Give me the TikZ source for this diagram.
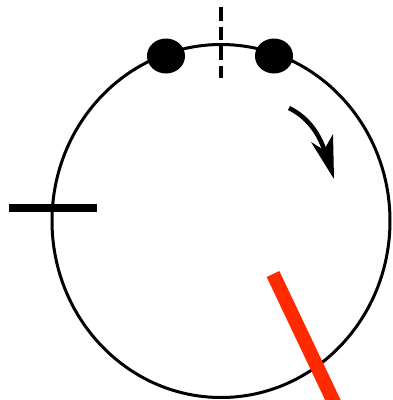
\documentclass[tikz,border=0pt]{standalone}
\definecolor{barred}{RGB}{255,42,0}
\begin{document}
\begin{tikzpicture}[x=1pt,y=-1pt,
  outline/.style={line width=3pt,draw=black},
  dot/.style={fill=black},
  tick/.style={line width=8pt,draw=black},
  redbar/.style={line width=14pt,draw=barred},
  dashtick/.style={line width=4.5pt,draw=black,dash pattern=on 13.5pt off 6pt}]
\useasboundingbox (0,0) rectangle (393,400);
\begin{scope}
\clip (0,0) rectangle (393,400);
\draw[outline] (221,221) ellipse [x radius=169, y radius=176.5];
\fill[dot] (166,56) ellipse [x radius=19, y radius=17.5];
\fill[dot] (274,56) ellipse [x radius=19, y radius=17.5];
\draw[dashtick] (221,7) -- (221,78);
\draw[tick] (9,208) -- (97,208);
\draw[redbar] (273,274) -- (340,415);
\draw[line width=4.5pt] (289,108) .. controls (305,116) and (318,130) .. (325,152);
\fill (334,179) -- (311,142) -- (324,150) -- (333,134) -- cycle;
\end{scope}
\end{tikzpicture}
\end{document}
